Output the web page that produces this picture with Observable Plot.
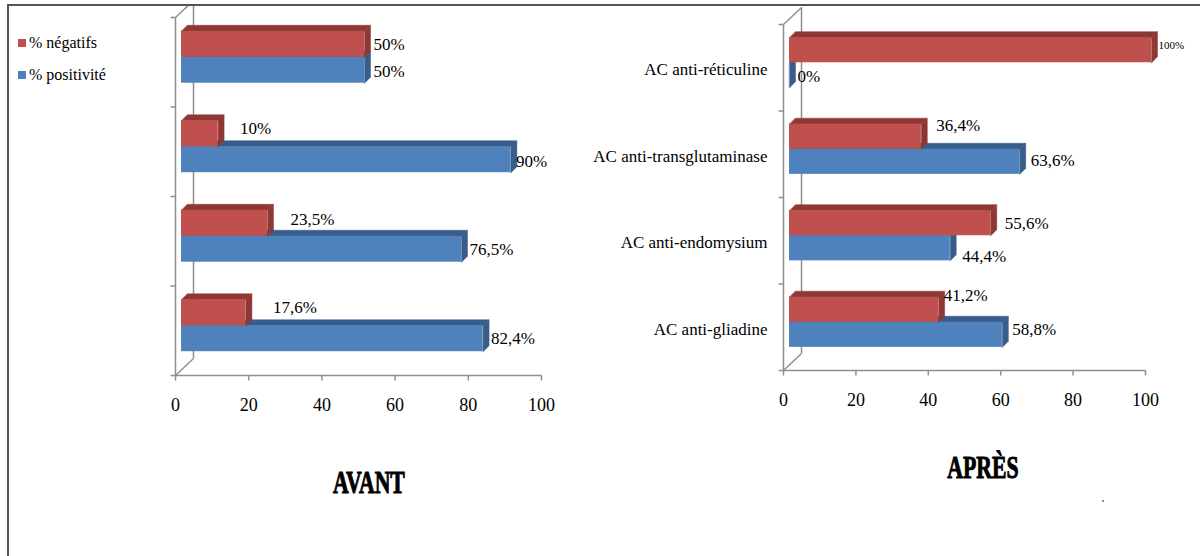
<!DOCTYPE html>
<html>
<head>
<meta charset="utf-8">
<script src="https://cdn.jsdelivr.net/npm/d3@7"></script>
<script src="https://cdn.jsdelivr.net/npm/@observablehq/plot@0.6"></script>
<style>
  body { margin: 0; background: #fff; }
  #wrap { position: relative; width: 1200px; height: 556px; overflow: hidden; background: #fff; font-family: "Liberation Serif", "Times New Roman", serif; }
  .panel { position: absolute; top: 0; }
  .frameTop { position: absolute; left: 7px; top: 4px; width: 1193px; height: 2px; background: #555; z-index: 5; }
  .frameLeft { position: absolute; left: 7px; top: 4px; width: 2px; height: 560px; background: #555; z-index: 5; }
  .cover { position: absolute; left: 0; top: 0; width: 1200px; height: 4px; background: #fff; z-index: 4; }
  .leg { position: absolute; left: 18px; font-size: 16px; color: #000; z-index: 6; }
  .leg .sw { display: inline-block; width: 8px; height: 8px; margin-right: 3px; vertical-align: 1px; }
  .title { position: absolute; font-family: "Liberation Serif", serif; font-weight: bold; font-size: 32px; color: #000; transform: translateX(-50%) scaleX(0.68); transform-origin: 50% 50%; -webkit-text-stroke: 1px #000; line-height: 1; white-space: nowrap; }
  .dot { position: absolute; left: 1102px; top: 500px; width: 2px; height: 2px; background: #888; }
</style>
</head>
<body>
<div id="wrap">
  <div class="cover"></div>
  <div class="frameTop"></div>
  <div class="frameLeft"></div>
  <div id="legend"></div>
  <div id="left" class="panel" style="left:0px"></div>
  <div id="right" class="panel" style="left:600px"></div>
  <div id="t1" class="title" style="left:369px; top:466px;"></div>
  <div id="t2" class="title" style="left:983px; top:451px;"></div>
  <div class="dot"></div>
</div>
<script>
// ---- data ----
const categories = ["AC anti-réticuline", "AC anti-transglutaminase", "AC anti-endomysium", "AC anti-gliadine"];
const seriesNames = ["% négatifs", "% positivité"];
const avantNegatifs = [50, 10, 23.5, 17.6];
const avantPositivite = [50, 90, 76.5, 82.4];
const apresNegatifs = [100, 36.4, 55.6, 41.2];
const apresPositivite = [0, 63.6, 44.4, 58.8];
const xTicks = [0, 20, 40, 60, 80, 100];
const panelTitles = ["AVANT", "APRÈS"];

// ---- styling / label nudges (pixels) ----
const colors = {
  neg: { front: "#C0504D", dark: "#8E3836" },
  pos: { front: "#4F81BD", dark: "#385D8A" }
};
const axisGray = "#8f8f8f";
const avantNegNudge = [[3, 0], [16, -5], [17, -4], [21, -5]];
const avantPosNudge = [[3, 1], [-1, 2], [2, 0], [2, 0]];
const apresNegNudge = [[1, -5], [9, -11], [8, 0], [-1, -14]];
const apresPosNudge = [[2, 1], [5, -1], [6, 8], [4, -5]];

const fmt = v => String(v).replace(".", ",") + "%";

function panel({neg, pos, xr, yr, showCats, negNudge, posNudge, smallFirst}) {
  const n = categories.length;
  const kx = (xr[1] - xr[0]) / 100, ky = (yr[1] - yr[0]) / n;
  const ox = 6 / kx, oy = -5 / ky;        // bar inset from front plane
  const dX = 6 / kx, dY = -6 / ky;        // bar depth
  const h = 0.29;                         // bar thickness (band fraction)
  const bars = [];
  categories.forEach((c, i) => {
    const mid = i + 0.5 + oy;
    bars.push({i, s: "neg", v: neg[i], y1: mid - h, y2: mid, nudge: negNudge[i], small: smallFirst && i === 0});
    bars.push({i, s: "pos", v: pos[i], y1: mid, y2: mid + h, nudge: posNudge[i], small: false});
  });
  bars.forEach(b => { b.x1 = ox; b.x2 = b.v + ox; });
  const topPoly = b => [[b.x1, b.y1], [b.x2, b.y1], [b.x2 + dX, b.y1 + dY], [b.x1 + dX, b.y1 + dY]].map(([x, y]) => ({x, y, id: b.s + b.i}));
  const sidePoly = b => [[b.x2, b.y1], [b.x2 + dX, b.y1 + dY], [b.x2 + dX, b.y2 + dY], [b.x2, b.y2]].map(([x, y]) => ({x, y, id: b.s + b.i}));

  // 3D frame segments
  const bx = 18 / kx, by = -17 / ky;
  const segs = [
    {x1: 0, y1: 0, x2: 0, y2: n},
    {x1: 0, y1: n, x2: 100, y2: n},
    {x1: bx, y1: by, x2: bx, y2: n + by},
    {x1: 0, y1: 0, x2: bx, y2: by},
    {x1: 0, y1: n, x2: bx, y2: n + by}
  ];
  for (let j = 0; j <= n; j++) segs.push({x1: -5 / kx, y1: j, x2: 0, y2: j});
  xTicks.forEach(t => segs.push({x1: t, y1: n, x2: t, y2: n + 5 / ky}));

  const marks = [Plot.link(segs, {x1: "x1", y1: "y1", x2: "x2", y2: "y2", stroke: axisGray, strokeWidth: 1.5})];
  for (const s of ["pos", "neg"]) {
    const bs = bars.filter(b => b.s === s);
    marks.push(Plot.line(bs.flatMap(topPoly), {x: "x", y: "y", z: "id", fill: colors[s].dark, stroke: colors[s].dark, strokeWidth: 0.5, curve: "linear-closed"}));
    marks.push(Plot.line(bs.flatMap(sidePoly), {x: "x", y: "y", z: "id", fill: colors[s].dark, stroke: colors[s].dark, strokeWidth: 0.5, curve: "linear-closed"}));
    marks.push(Plot.rect(bs, {x1: "x1", x2: "x2", y1: "y1", y2: "y2", fill: colors[s].front}));
  }
  const lab = bars.map(b => ({
    x: b.x2 + dX + b.nudge[0] / kx,
    y: (b.y1 + b.y2) / 2 + b.nudge[1] / ky,
    t: fmt(b.v), small: b.small
  }));
  marks.push(Plot.text(lab.filter(d => !d.small), {x: "x", y: "y", text: "t", textAnchor: "start", fontSize: 17, fill: "#000"}));
  marks.push(Plot.text(lab.filter(d => d.small), {x: "x", y: "y", text: "t", textAnchor: "start", fontSize: 11, fill: "#000"}));
  marks.push(Plot.text(xTicks, {x: d => d, y: n, dy: 30, text: d => String(d), fontSize: 18, fill: "#000"}));
  if (showCats) {
    marks.push(Plot.text(categories, {x: 0, y: (d, i) => i + 0.5, dx: -16, dy: 2, text: d => d, textAnchor: "end", fontSize: 17, fill: "#000"}));
  }
  return Plot.plot({
    width: 600, height: 430, margin: 0,
    x: {domain: [0, 100], range: xr, axis: null},
    y: {domain: [0, n], range: yr, axis: null},
    style: {background: "transparent", fontFamily: "Liberation Serif, Times New Roman, serif", overflow: "visible"},
    marks
  });
}

document.getElementById("left").append(panel({
  neg: avantNegatifs, pos: avantPositivite, xr: [175, 541], yr: [17, 375],
  showCats: false, negNudge: avantNegNudge, posNudge: avantPosNudge, smallFirst: false
}));
document.getElementById("right").append(panel({
  neg: apresNegatifs, pos: apresPositivite, xr: [183, 545], yr: [24, 370],
  showCats: true, negNudge: apresNegNudge, posNudge: apresPosNudge, smallFirst: true
}));

// legend
const legend = document.getElementById("legend");
[["neg", 34], ["pos", 66]].forEach(([s, top], k) => {
  const d = document.createElement("div");
  d.className = "leg";
  d.style.top = top + "px";
  d.innerHTML = `<span class="sw" style="background:${colors[s].front}"></span>`;
  d.append(seriesNames[k]);
  legend.append(d);
});
document.getElementById("t1").textContent = panelTitles[0];
document.getElementById("t2").textContent = panelTitles[1];
</script>
</body>
</html>
